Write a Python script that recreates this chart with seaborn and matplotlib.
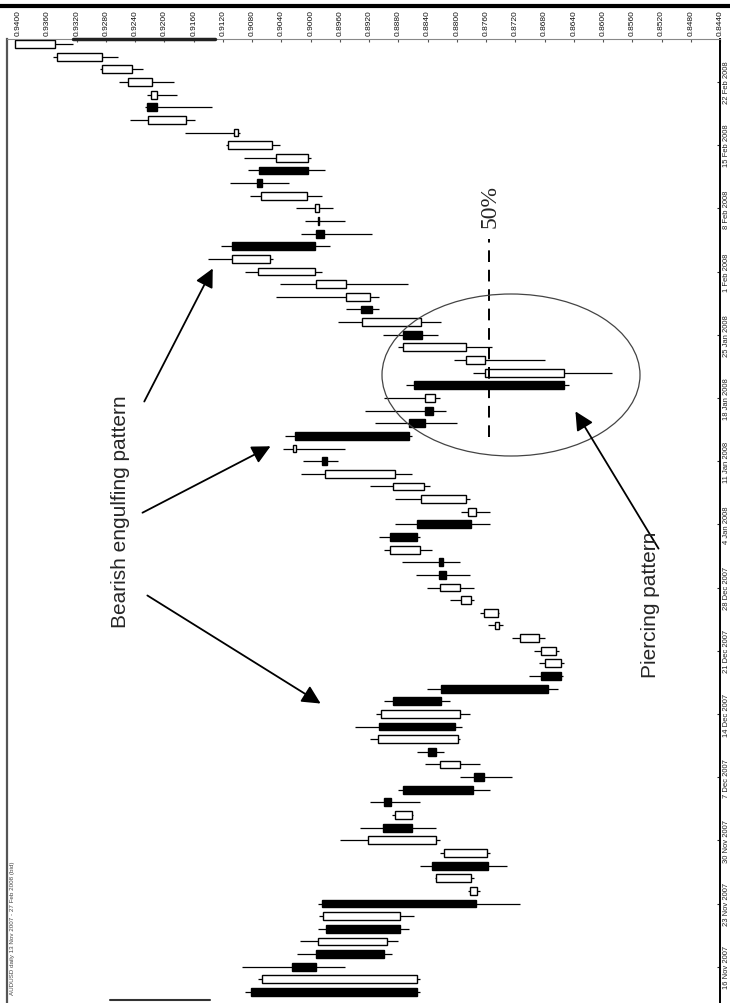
import pandas as pd
import matplotlib.pyplot as plt
import seaborn as sns
from matplotlib.patches import Ellipse, FancyArrowPatch
from matplotlib.lines import Line2D

# AUD/USD daily candles, oldest first (chart is printed rotated 90 degrees)
opens = [0.9082, 0.8854, 0.9026, 0.8992, 0.8895, 0.8979, 0.8878, 0.8985, 0.8773, 0.8780,
         0.8834, 0.8759, 0.8828, 0.8901, 0.8862, 0.8899, 0.8874, 0.8776, 0.8796, 0.8840,
         0.8799, 0.8906, 0.8796, 0.8888, 0.8822, 0.8685, 0.8658, 0.8665, 0.8687, 0.8742,
         0.8744, 0.8781, 0.8796, 0.8825, 0.8825, 0.8851, 0.8892, 0.8855, 0.8774, 0.8788,
         0.8845, 0.8885, 0.8985, 0.9020, 0.9022, 0.8865, 0.8843, 0.8830, 0.8859, 0.8654,
         0.8762, 0.8788, 0.8874, 0.8849, 0.8931, 0.8919, 0.8952, 0.8994, 0.9056, 0.9107,
         0.8993, 0.8990, 0.8988, 0.9005, 0.9074, 0.9070, 0.9003, 0.9053, 0.9100, 0.9171,
         0.9224, 0.9210, 0.9217, 0.9245, 0.9286, 0.9350]
highs = [0.9090, 0.9072, 0.9094, 0.9018, 0.9015, 0.8990, 0.8988, 0.8990, 0.8785, 0.8830,
         0.8851, 0.8823, 0.8960, 0.8933, 0.8889, 0.8919, 0.8881, 0.8796, 0.8844, 0.8854,
         0.8919, 0.8940, 0.8911, 0.8899, 0.8841, 0.8701, 0.8687, 0.8694, 0.8724, 0.8758,
         0.8769, 0.8810, 0.8841, 0.8856, 0.8875, 0.8899, 0.8906, 0.8884, 0.8795, 0.8885,
         0.8919, 0.9013, 0.9011, 0.9038, 0.9035, 0.8912, 0.8926, 0.8899, 0.8869, 0.8778,
         0.8804, 0.8881, 0.8901, 0.8962, 0.8951, 0.9048, 0.9042, 0.9090, 0.9141, 0.9122,
         0.9013, 0.9008, 0.9020, 0.9083, 0.9111, 0.9086, 0.9091, 0.9116, 0.9172, 0.9247,
         0.9227, 0.9224, 0.9262, 0.9288, 0.9353, 0.9404]
lows = [0.8851, 0.8851, 0.8953, 0.8889, 0.8881, 0.8865, 0.8858, 0.8714, 0.8769, 0.8777,
        0.8732, 0.8755, 0.8823, 0.8828, 0.8860, 0.8851, 0.8755, 0.8724, 0.8769, 0.8817,
        0.8796, 0.8793, 0.8782, 0.8810, 0.8662, 0.8655, 0.8653, 0.8660, 0.8680, 0.8737,
        0.8743, 0.8776, 0.8777, 0.8782, 0.8796, 0.8834, 0.8851, 0.8755, 0.8755, 0.8782,
        0.8837, 0.8862, 0.8963, 0.8953, 0.8862, 0.8800, 0.8815, 0.8823, 0.8647, 0.8588,
        0.8680, 0.8752, 0.8826, 0.8821, 0.8906, 0.8906, 0.8867, 0.8985, 0.9052, 0.8974,
        0.8916, 0.8953, 0.8970, 0.8985, 0.9029, 0.8981, 0.9000, 0.9042, 0.9097, 0.9158,
        0.9135, 0.9183, 0.9187, 0.9230, 0.9264, 0.9325]
closes = [0.8855, 0.9067, 0.8993, 0.8900, 0.8990, 0.8878, 0.8983, 0.8774, 0.8782, 0.8828,
          0.8758, 0.8818, 0.8921, 0.8862, 0.8885, 0.8890, 0.8778, 0.8763, 0.8823, 0.8829,
          0.8908, 0.8803, 0.8904, 0.8822, 0.8675, 0.8658, 0.8680, 0.8685, 0.8714, 0.8748,
          0.8763, 0.8795, 0.8823, 0.8815, 0.8819, 0.8892, 0.8854, 0.8780, 0.8785, 0.8849,
          0.8888, 0.8981, 0.8977, 0.9024, 0.8865, 0.8844, 0.8833, 0.8843, 0.8654, 0.8761,
          0.8788, 0.8874, 0.8848, 0.8930, 0.8916, 0.8952, 0.8993, 0.9072, 0.9107, 0.8994,
          0.8982, 0.8988, 0.8994, 0.9068, 0.9067, 0.9003, 0.9048, 0.9113, 0.9105, 0.9223,
          0.9210, 0.9219, 0.9250, 0.9286, 0.9347, 0.9404]

price_ticks = [0.9400, 0.9360, 0.9320, 0.9280, 0.9240, 0.9200, 0.9160, 0.9120, 0.9080,
               0.9040, 0.9000, 0.8960, 0.8920, 0.8880, 0.8840, 0.8800, 0.8760, 0.8720,
               0.8680, 0.8640, 0.8600, 0.8560, 0.8520, 0.8480, 0.8440]

dates = pd.bdate_range(end='2008-02-27', periods=len(opens))
df = pd.DataFrame({'date': dates, 'open': opens, 'high': highs, 'low': lows, 'close': closes})
df['bar'] = range(len(df))
df['bull'] = df['close'] >= df['open']

W, H = 730, 1004
def fx(x):
    return x / W
def fy(y):
    return 1 - y / H

sns.set_style('white')
plt.rcParams['font.family'] = ['Liberation Sans', 'DejaVu Sans']

fig = plt.figure(figsize=(W / 100, H / 100), dpi=100)
ax = fig.add_axes([fx(7), 0, fx(720) - fx(7), fy(40)])

# candles drawn sideways: price on x, time on y
ax.hlines(df['bar'], df['low'], df['high'], color='black', lw=0.9, zorder=1)
ax.barh(df['bar'], df['close'] - df['open'], left=df['open'], height=0.62,
        color=['white' if b else 'black' for b in df['bull']],
        edgecolor='black', linewidth=1.0, zorder=2)

ax.set_xlim(0.94154, 0.84408)
ax.set_ylim(-0.87, len(df) - 1 + 0.4)

ax.xaxis.tick_top()
ax.set_xticks(price_ticks)
ax.set_xticklabels([f'{p:.4f}' for p in price_ticks], rotation=90, fontsize=6, color='#111111')
ax.tick_params(axis='x', direction='in', length=2, pad=3, color='#555555')

fri = df[df['date'].dt.dayofweek == 4]
ax.yaxis.tick_right()
ax.set_yticks(fri['bar'])
ax.set_yticklabels([f'{d.day} {d:%b %Y}' for d in fri['date']], rotation=90,
                   fontsize=5.5, color='#222222', va='center')
ax.tick_params(axis='y', direction='in', length=2, pad=2)

ax.spines['bottom'].set_visible(False)
ax.spines['top'].set_color('#888888')
ax.spines['top'].set_linewidth(0.8)
ax.spines['left'].set_color('#555555')
ax.spines['left'].set_linewidth(1.6)
ax.spines['right'].set_color('black')
ax.spines['right'].set_linewidth(1.4)

# piercing pattern: 50% of the long black body
pb = df.iloc[48]
mid = (pb['open'] + pb['close']) / 2
ax.vlines(mid, 43.9, 59.6, color='black', lw=1.4, linestyles=(0, (6, 4)), zorder=3)
fig.text(fx(490), fy(206), '50%', rotation=90, ha='center', va='center',
         fontsize=17, family='Liberation Serif')

fig.add_artist(Ellipse((fx(511), fy(376)), 258 / W, 162 / H, fill=False,
                       edgecolor='#444444', lw=0.9, transform=fig.transFigure))

fig.text(fx(120), fy(512), 'Bearish engulfing pattern', rotation=90,
         ha='center', va='center', fontsize=15)
fig.text(fx(650), fy(605), 'Piercing pattern', rotation=90,
         ha='center', va='center', fontsize=15)

arrows = [((143, 405), (214, 267)), ((140, 515), (273, 446)),
          ((145, 595), (323, 706)), ((660, 552), (574, 410))]
for (x0, y0), (x1, y1) in arrows:
    fig.add_artist(FancyArrowPatch(
        (fx(x0), fy(y0)), (fx(x1), fy(y1)), transform=fig.transFigure,
        arrowstyle='-|>', mutation_scale=28, lw=1.3, color='black'))

# scan page edge and marks
fig.add_artist(Line2D([0, 1], [fy(7), fy(7)], lw=3, color='black', transform=fig.transFigure))
fig.add_artist(Line2D([fx(73), fx(215)], [fy(40), fy(40)], lw=2.5, color='#222222',
                      transform=fig.transFigure))
fig.add_artist(Line2D([fx(110), fx(210)], [fy(1001), fy(1001)], lw=1.5, color='#333333',
                      transform=fig.transFigure))
fig.text(fx(13), fy(928), 'AUDUSD daily 13 Nov 2007 - 27 Feb 2008 (bid)', rotation=90,
         ha='center', va='center', fontsize=4.5, color='#444444')

fig.savefig('out.png', dpi=100)
